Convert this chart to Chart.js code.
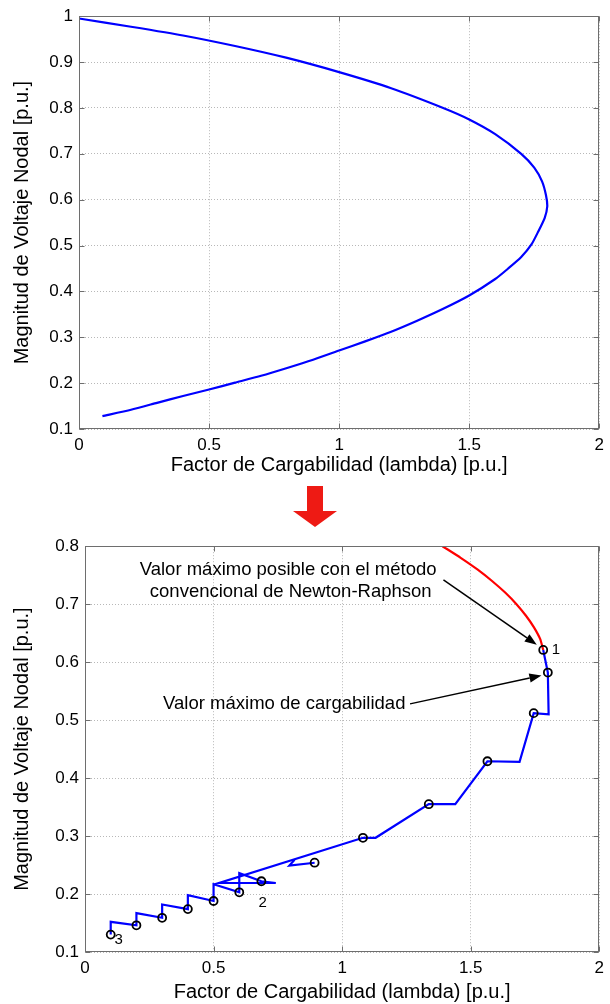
<!DOCTYPE html>
<html>
<head>
<meta charset="utf-8">
<script src="https://cdn.jsdelivr.net/npm/chart.js@4.4.0/dist/chart.umd.min.js"></script>
<style>
  body { margin: 0; background: #fff; width: 610px; height: 1004px; position: relative; overflow: hidden; }
  #c1 { position: absolute; left: 0; top: 0; }
  #c2 { position: absolute; left: 0; top: 530px; }
  #flecha { position: absolute; left: 0; top: 0; }
</style>
</head>
<body>
<canvas id="c1" width="610" height="480"></canvas>
<svg id="flecha" width="610" height="540">
  <polygon points="307,486 323,486 323,511 337,511 315,527 293,511 307,511" fill="#ee1a14"/>
</svg>
<canvas id="c2" width="610" height="474"></canvas>
<script>
// Curva PV completa (grafico superior)
const lambdaPV = [0, 0.2, 0.4, 0.6, 0.8, 1.0, 1.2, 1.4, 1.5, 1.6, 1.7, 1.75, 1.78, 1.795, 1.8,
                  1.79, 1.765, 1.74, 1.7, 1.65, 1.6, 1.5, 1.4, 1.3, 1.2, 1.1, 1.0, 0.9, 0.8, 0.7, 0.6, 0.5, 0.4, 0.3, 0.2, 0.09];
const voltPV   = [0.995, 0.977, 0.958, 0.935, 0.909, 0.878, 0.843, 0.800, 0.775, 0.743, 0.700, 0.670, 0.640, 0.610, 0.585,
                  0.560, 0.530, 0.503, 0.475, 0.450, 0.427, 0.391, 0.362, 0.336, 0.312, 0.291, 0.271, 0.251, 0.233, 0.216, 0.201, 0.186, 0.172, 0.157, 0.142, 0.128];

// Newton-Raphson convencional (rojo)
const lambdaNR = [1.39, 1.461, 1.526, 1.583, 1.634, 1.678, 1.715, 1.746, 1.770, 1.782];
const voltNR   = [0.80, 0.78, 0.76, 0.74, 0.72, 0.70, 0.68, 0.66, 0.64, 0.621];

// Flujo continuado: predictor / corrector (azul)
const lambdaCont = [0.1, 0.1, 0.2, 0.2, 0.3, 0.3, 0.4, 0.4, 0.5, 0.5, 0.6, 0.6, 0.686, 0.742, 0.522,
                    1.081, 1.13, 1.337, 1.44, 1.565, 1.69, 1.745, 1.803, 1.80, 1.782];
const voltCont   = [0.130, 0.152, 0.146, 0.167, 0.159, 0.182, 0.174, 0.198, 0.188, 0.217, 0.203, 0.236, 0.222, 0.219, 0.219,
                    0.297, 0.297, 0.355, 0.355, 0.429, 0.428, 0.512, 0.510, 0.582, 0.621];
const lambdaNotch = [0.815, 0.795, 0.893];
const voltNotch   = [0.259, 0.249, 0.254];

// puntos corregidos (circulos)
const lambdaMark = [0.1, 0.2, 0.3, 0.4, 0.5, 0.6, 0.686, 0.893, 1.081, 1.337, 1.565, 1.745, 1.80, 1.782];
const voltMark   = [0.130, 0.146, 0.159, 0.174, 0.188, 0.203, 0.222, 0.254, 0.297, 0.355, 0.429, 0.512, 0.582, 0.621];

const pointNames  = ['1', '2', '3'];
const pointLambda = [1.831, 0.691, 0.131];
const pointVolt   = [0.621, 0.185, 0.121];

const xTicks = [0, 0.5, 1, 1.5, 2];
const yTicksTop = [0.1, 0.2, 0.3, 0.4, 0.5, 0.6, 0.7, 0.8, 0.9, 1];
const yTicksBottom = [0.1, 0.2, 0.3, 0.4, 0.5, 0.6, 0.7, 0.8];

const xTitle = 'Factor de Cargabilidad (lambda) [p.u.]';
const yTitle = 'Magnitud de Voltaje Nodal [p.u.]';
const noteNR = ['Valor máximo posible con el método', 'convencional de Newton-Raphson'];
const noteMax = 'Valor máximo de cargabilidad';

const FONT = 'Arial, "Liberation Sans", Helvetica, sans-serif';

function pts(xs, ys) {
    return xs.map((x, i) => ({ x: x, y: ys[i] }));
}

// marco y marcas interiores estilo MATLAB
const matlabFrame = {
    id: 'matlabFrame',
    afterDraw(chart) {
        const { ctx, chartArea: a, scales } = chart;
        const L = Math.round(a.left) + 0.5, R = Math.round(a.right) - 0.5;
        const T = Math.round(a.top) + 0.5, B = Math.round(a.bottom) - 0.5;
        ctx.save();
        ctx.strokeStyle = '#6e6e6e';
        ctx.lineWidth = 1;
        ctx.beginPath();
        scales.x.ticks.forEach(t => {
            const px = Math.round(scales.x.getPixelForValue(t.value)) + 0.5;
            ctx.moveTo(px, B); ctx.lineTo(px, B - 5);
            ctx.moveTo(px, T); ctx.lineTo(px, T + 5);
        });
        scales.y.ticks.forEach(t => {
            const py = Math.round(scales.y.getPixelForValue(t.value)) + 0.5;
            ctx.moveTo(L, py); ctx.lineTo(L + 5, py);
            ctx.moveTo(R, py); ctx.lineTo(R - 5, py);
        });
        ctx.stroke();
        ctx.strokeRect(L, T, R - L, B - T);
        ctx.restore();
    }
};

function drawArrow(ctx, x1, y1, x2, y2) {
    const ang = Math.atan2(y2 - y1, x2 - x1);
    const len = 12, half = 4.5;
    const bx = x2 - len * Math.cos(ang), by = y2 - len * Math.sin(ang);
    ctx.beginPath();
    ctx.moveTo(x1, y1);
    ctx.lineTo(bx, by);
    ctx.stroke();
    ctx.beginPath();
    ctx.moveTo(x2, y2);
    ctx.lineTo(bx + half * Math.sin(ang), by - half * Math.cos(ang));
    ctx.lineTo(bx - half * Math.sin(ang), by + half * Math.cos(ang));
    ctx.closePath();
    ctx.fill();
}

const notas = {
    id: 'notas',
    afterDatasetsDraw(chart) {
        const { ctx, scales: { x, y } } = chart;
        ctx.save();
        ctx.fillStyle = '#000';
        ctx.strokeStyle = '#000';
        ctx.lineWidth = 1.5;
        ctx.textAlign = 'center';
        ctx.textBaseline = 'middle';
        ctx.font = '18.5px ' + FONT;
        ctx.fillText(noteNR[0], x.getPixelForValue(0.79), y.getPixelForValue(0.759));
        ctx.fillText(noteNR[1], x.getPixelForValue(0.80), y.getPixelForValue(0.722));
        ctx.fillText(noteMax, x.getPixelForValue(0.775), y.getPixelForValue(0.528));
        drawArrow(ctx, x.getPixelForValue(1.394), y.getPixelForValue(0.742),
                       x.getPixelForValue(1.757), y.getPixelForValue(0.630));
        drawArrow(ctx, x.getPixelForValue(1.264), y.getPixelForValue(0.528),
                       x.getPixelForValue(1.775), y.getPixelForValue(0.577));
        ctx.font = '15px ' + FONT;
        pointNames.forEach((n, i) => {
            ctx.fillText(n, x.getPixelForValue(pointLambda[i]), y.getPixelForValue(pointVolt[i]));
        });
        ctx.restore();
    }
};

function scalesFor(yMin, yMax, yTicks, axisHeight, axisWidth, titlePad) {
    return {
        x: {
            type: 'linear', min: 0, max: 2,
            afterBuildTicks: s => { s.ticks = xTicks.map(v => ({ value: v })); },
            afterFit: s => { s.height = axisHeight; },
            grid: { color: '#b8b8b8', lineWidth: 1, drawTicks: false },
            border: { display: false, dash: [1, 2] },
            ticks: { color: '#000', padding: 6, maxRotation: 0, font: { family: FONT, size: 17 },
                     callback: v => String(v) },
            title: { display: true, text: xTitle, color: '#000', font: { family: FONT, size: 20 },
                     padding: { top: 0, bottom: titlePad } }
        },
        y: {
            type: 'linear', min: yMin, max: yMax,
            afterBuildTicks: s => { s.ticks = yTicks.map(v => ({ value: v })); },
            afterFit: s => { s.width = axisWidth; },
            grid: { color: '#b8b8b8', lineWidth: 1, drawTicks: false },
            border: { display: false, dash: [1, 2] },
            ticks: { color: '#000', padding: 6, font: { family: FONT, size: 17 },
                     callback: v => String(v) },
            title: { display: true, text: yTitle, color: '#000', font: { family: FONT, size: 20 },
                     padding: { top: 10, bottom: 0 } }
        }
    };
}

const baseOptions = {
    responsive: false,
    animation: false,
    plugins: { legend: { display: false }, tooltip: { enabled: false } }
};

// Grafico superior: curva PV
new Chart(document.getElementById('c1').getContext('2d'), {
    type: 'scatter',
    data: {
        datasets: [{
            data: pts(lambdaPV, voltPV),
            showLine: true,
            borderColor: '#0000ff',
            borderWidth: 2.2,
            pointRadius: 0,
            tension: 0.2
        }]
    },
    options: Object.assign({}, baseOptions, {
        layout: { padding: { top: 15, right: 7, left: 0, bottom: 0 } },
        scales: scalesFor(0.1, 1, yTicksTop, 51, 79, 3)
    }),
    plugins: [matlabFrame]
});

// Grafico inferior: flujo continuado vs Newton-Raphson
new Chart(document.getElementById('c2').getContext('2d'), {
    type: 'scatter',
    data: {
        datasets: [
            {
                data: pts(lambdaMark, voltMark),
                showLine: false,
                pointStyle: 'circle',
                pointRadius: 4,
                pointBorderWidth: 1.8,
                pointBorderColor: '#000',
                pointBackgroundColor: 'rgba(0,0,0,0)'
            },
            {
                data: pts(lambdaCont, voltCont),
                showLine: true, borderColor: '#0000ff', borderWidth: 2.2, pointRadius: 0, tension: 0
            },
            {
                data: pts(lambdaNotch, voltNotch),
                showLine: true, borderColor: '#0000ff', borderWidth: 2.2, pointRadius: 0, tension: 0
            },
            {
                data: pts(lambdaNR, voltNR),
                showLine: true, borderColor: '#ff0000', borderWidth: 2.2, pointRadius: 0, tension: 0.2
            }
        ]
    },
    options: Object.assign({}, baseOptions, {
        layout: { padding: { top: 14, right: 10, left: 0, bottom: 0 } },
        scales: scalesFor(0.1, 0.8, yTicksBottom, 52, 85, 0)
    }),
    plugins: [matlabFrame, notas]
});
</script>
</body>
</html>
